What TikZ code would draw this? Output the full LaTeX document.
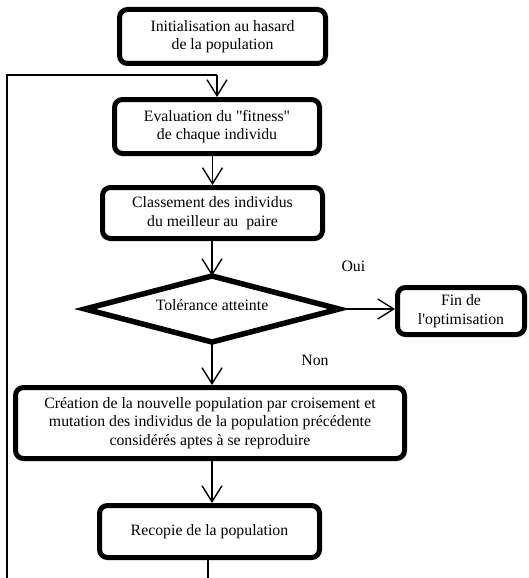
\documentclass[tikz,border=0pt]{standalone}
\usepackage{fontspec}
\setmainfont{Liberation Serif}[Ligatures=TeXOff]
\usetikzlibrary{arrows.meta}

\begin{document}
\begin{tikzpicture}[x=1pt,y=-1pt,
  txt/.style={font=\fontsize{15.8}{18.5}\selectfont},
  box/.style={draw, line width=5pt, rounded corners=8pt, align=center,
              inner sep=0pt, txt},
  decision/.style={line width=5.5pt, line join=miter},
  wire/.style={line width=1.4pt},
  flow/.style={wire, -{Straight Barb[length=16pt,width=20pt]}}
]
\useasboundingbox (0,0) rectangle (528,578);

% process boxes
\node[box, minimum width=206pt, minimum height=54pt] (init) at (222.5,36.5)
  {Initialisation au hasard\\de la population};
\node[box, minimum width=205pt, minimum height=54pt] (eval) at (217,126.5)
  {Evaluation du "fitness"\\de chaque individu};
\node[box, minimum width=220pt, minimum height=51pt] (rank) at (212.5,213)
  {Classement des individus\\du meilleur au\ \ paire};

% decision diamond
\coordinate (tolN) at (212,276);
\coordinate (tolE) at (339,309);
\coordinate (tolS) at (212,342);
\coordinate (tolW) at (85,309);
\draw[decision] (tolN) -- (tolE) -- (tolS) -- (tolW) -- cycle;
\node[txt] (tol) at (212,305) {Tolérance atteinte};

\node[box, minimum width=127pt, minimum height=47pt] (fin) at (461,311)
  {Fin de\\l'optimisation};
\node[box, minimum width=389pt, minimum height=71pt] (new) at (210,423)
  {Création de la nouvelle population par croisement et\\
   mutation des individus de la population précédente\\
   considérés aptes à se reproduire};
\node[box, minimum width=220pt, minimum height=52pt] (copy) at (209.5,531.5)
  {Recopie de la population};

% branch labels
\node[txt, anchor=west] (oui) at (338,266) {Oui};
\node[txt] (non) at (315,360) {Non};

% loop-back line
\coordinate (loopbot) at (7,578);
\coordinate (looptop) at (7,75);
\coordinate (tail) at (208,578);
\draw[wire] (loopbot) -- (looptop) -- (looptop -| eval.north);
\draw[flow] (looptop -| eval.north) -- (eval.north);
\draw[wire] (copy.south -| tail) -- (tail);

% main flow
\draw[flow] (eval.south -| rank.north) -- (rank.north);
\draw[flow] (rank.south -| tolN) -- (tolN);
\draw[flow] (tolE) -- (tolE -| fin.west);
\draw[flow] (tolS) -- (tolS |- new.north);
\draw[flow] (new.south -| tolS) -- (tolS |- copy.north);
\end{tikzpicture}
\end{document}
